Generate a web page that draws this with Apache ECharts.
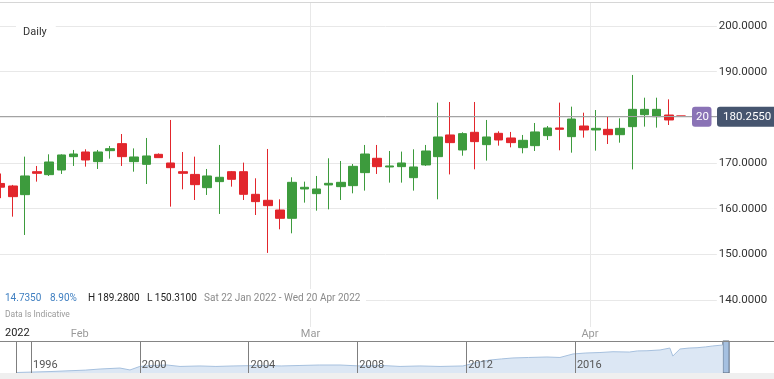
<!DOCTYPE html>
<html><head><meta charset="utf-8">
<script src="https://cdn.jsdelivr.net/npm/echarts@6/dist/echarts.min.js"></script>
<style>html,body{margin:0;padding:0;background:#fff}#c{width:774px;height:379px}</style>
</head><body><div id="c"></div>
<script>
// ---- data ----
const dates = ['2022-01-21','2022-01-24','2022-01-25','2022-01-26','2022-01-27','2022-01-28','2022-01-31',
 '2022-02-01','2022-02-02','2022-02-03','2022-02-04','2022-02-07','2022-02-08','2022-02-09','2022-02-10','2022-02-11',
 '2022-02-14','2022-02-15','2022-02-16','2022-02-17','2022-02-18','2022-02-22','2022-02-23','2022-02-24','2022-02-25','2022-02-28',
 '2022-03-01','2022-03-02','2022-03-03','2022-03-04','2022-03-07','2022-03-08','2022-03-09','2022-03-10','2022-03-11',
 '2022-03-14','2022-03-15','2022-03-16','2022-03-17','2022-03-18','2022-03-21','2022-03-22','2022-03-23','2022-03-24','2022-03-25',
 '2022-03-28','2022-03-29','2022-03-30','2022-03-31','2022-04-01','2022-04-04','2022-04-05','2022-04-06','2022-04-07','2022-04-08',
 '2022-04-11','2022-04-12','2022-04-13','2022-04-14','2022-04-18','2022-04-19','2022-04-20','2022-04-21','2022-04-22'];
const opens = [165.52,164.97,163.07,168.1,167.45,168.47,171.39,172.41,170.3,172.7,174.24,170.3,169.71,171.9,170.0,168.1,167.5,164.6,165.92,168.1,
 168.1,163.14,161.83,159.71,157.89,164.31,163.29,165.19,164.82,165.04,167.89,171.03,169.13,169.2,166.79,169.57,171.39,176.14,172.85,176.72,
 174.02,176.5,175.48,173.36,173.8,175.99,177.67,175.77,178.1,177.23,177.37,176.2,177.96,180.58,180.15,180.51,180.3];
const closes = [164.7,162.63,167.16,167.74,170.22,171.76,171.97,170.66,172.41,173.14,171.39,171.32,171.54,171.17,168.98,167.74,165.26,167.16,166.87,166.43,
 163.14,161.54,160.66,157.89,165.77,164.68,164.31,165.55,165.77,169.27,171.97,169.2,169.35,170.0,169.13,172.63,175.7,174.46,176.43,174.68,
 175.7,175.04,174.46,174.97,176.8,177.67,177.38,179.63,177.23,177.59,176.2,177.59,181.75,181.75,181.75,179.42,180.255];
const lows = [162.3,158.25,154.24,165.92,167.16,167.6,169.35,169.2,168.69,170.95,169.35,168.1,165.4,171.17,160.44,164.24,161.9,163.0,158.84,164.82,
 161.9,158.61,150.31,155.48,154.6,161.32,159.56,159.85,161.9,163.36,163.95,167.6,165.7,165.7,163.95,169.35,162.05,167.5,171.6,168.62,
 170.52,173.8,173.43,172.12,172.63,175.04,172.78,172.26,175.55,172.7,174.16,174.45,168.6,177.96,177.74,178.32,180.255];
const highs = [167.7,165.2,171.39,169.35,171.9,171.9,172.85,173.0,172.85,173.73,176.35,173.2,175.48,172.1,179.42,172.41,171.39,168.69,173.95,168.25,
 170.08,166.65,173.07,162.05,166.87,165.92,167.16,171.03,170.44,169.78,173.95,173.95,172.63,172.5,173.0,173.95,183.22,183.36,176.72,183.36,
 179.42,176.94,176.8,176.14,178.76,178.1,183.22,182.34,181.02,181.6,180.15,179.78,189.28,184.3,184.3,183.94,180.3];
const monthNames = ['Jan','Feb','Mar','Apr','May','Jun','Jul','Aug','Sep','Oct','Nov','Dec'];
const yearLabel = '2022';
const rangeLabel = 'Sat 22 Jan 2022 - Wed 20 Apr 2022';
const intervalLabel = 'Daily';
const countdownLabel = '20';
// navigator (long history overview)
const navX = [1995.45,1996.7,1998.0,1998.54,1999.27,1999.64,2000.0,2000.5,2001.0,2001.48,2002.21,2002.8,2003.43,2004.42,2005.2,2005.89,2006.6,2007.36,2008.1,
 2008.9,2009.57,2010.3,2011.04,2011.88,2012.4,2012.88,2013.3,2013.72,2014.3,2014.97,2015.45,2015.93,2016.4,2016.92,2017.4,2018.0,2018.3,2018.65,2019.13,
 2019.49,2019.6,2019.86,2020.2,2020.49,2020.8,2021.07,2021.44];
const navY = [3,9,18,25,31,19,41,47,50,41,44,41,44,47,44,47,50,50,44,
 47,41,44,41,44,66,81,88,94,97,100,97,119,125,128,133,131,138,139,144,
 156,106,150,156,158,163,169,175];
const navYearLines = [1995.45,1996,2000,2004,2008,2012,2016];
const navLabelYears = [1996,2000,2004,2008,2012,2016];
const navWindow = [2021.44,2021.67];

// ---- derived ----
const GREEN = '#3d9b3d', RED = '#e2262c';
const FONT = 'Roboto';
const isMonthStart = dates.map((d,i)=> i>0 && d.slice(5,7)!==dates[i-1].slice(5,7));
const candles = opens.map((o,i)=>[o, closes[i], lows[i], highs[i]]);
const firstOpen = opens[0], lastClose = closes[closes.length-1];
const change = lastClose - firstOpen;
const pct = change/firstOpen*100;
const hi = Math.max(...highs), lo = Math.min(...lows);

const chart = echarts.init(document.getElementById('c'), null, {renderer:'canvas'});
chart.setOption({
  animation:false,
  backgroundColor:'#fff',
  grid:[
    {left:-5.47, right:1.9, top:2, bottom:52, containLabel:false, outerBoundsMode:'none'},
    {left:0, right:0, top:341, height:32, containLabel:false, outerBoundsMode:'none'}
  ],
  xAxis:[
    {gridIndex:0, type:'category', data:dates, boundaryGap:true,
     axisLine:{show:false}, axisTick:{show:false},
     axisLabel:{interval:(i)=>isMonthStart[i], formatter:(v)=>monthNames[+v.slice(5,7)-1],
       color:'#9a9a9a', fontSize:11, fontFamily:FONT, margin:2, padding:[0,12,0,0], hideOverlap:false},
     splitLine:{show:true, interval:(i)=>isMonthStart[i], showMinLine:false, showMaxLine:false, lineStyle:{color:'#e8e8e8', width:1}}},
    {gridIndex:1, type:'value', min:1994.86, max:2023.32, minInterval:4, maxInterval:4, z:10,
     axisLine:{show:false}, axisTick:{show:false}, splitLine:{show:false},
     axisLabel:{inside:true, showMinLabel:false, showMaxLabel:false, align:'left', margin:2, padding:[0,0,0,2],
       color:'#555', fontSize:11, fontFamily:FONT, hideOverlap:false,
       formatter:(v)=> navLabelYears.indexOf(Math.round(v))>=0 && Math.abs(v-Math.round(v))<1e-6 ? String(Math.round(v)) : ''}}
  ],
  yAxis:[
    {gridIndex:0, type:'value', position:'right', min:134.087, max:205.2555, minInterval:10, maxInterval:10,
     axisLine:{show:false}, axisTick:{show:false},
     splitLine:{show:true, showMinLine:false, showMaxLine:false, lineStyle:{color:'#e8e8e8', width:1}},
     axisLabel:{inside:true, margin:0, showMinLabel:false, showMaxLabel:false, formatter:(v)=>v.toFixed(4),
       color:'#333', fontSize:11.5, fontFamily:FONT, backgroundColor:'#fff', padding:[2,5,2,2]}},
    {gridIndex:1, type:'value', min:0, max:200, show:false, splitLine:{show:false}}
  ],
  series:[
    {type:'candlestick', xAxisIndex:0, yAxisIndex:0, data:candles, barWidth:9,
     itemStyle:{color:GREEN, color0:RED, borderColor:GREEN, borderColor0:RED, borderWidth:1},
     markLine:{silent:true, symbol:'none', label:{show:false}, animation:false,
       lineStyle:{color:'#a3a3a3', width:1, type:'solid'}, data:[{yAxis:lastClose}]}},
    {type:'line', xAxisIndex:1, yAxisIndex:1, data:navX.map((x,i)=>[x, navY[i]]), symbol:'none', silent:true, z:1,
     lineStyle:{color:'#a6c0de', width:1}, areaStyle:{color:'#dce7f4', opacity:1},
     markLine:{silent:true, symbol:'none', label:{show:false}, animation:false,
       lineStyle:{color:'#7f7f7f', width:1, type:'solid'}, data:navYearLines.map(v=>({xAxis:v}))},
     markArea:{silent:true, itemStyle:{color:'#a5c0e0', borderColor:'#5b6a7c', borderWidth:1},
       data:[[{xAxis:navWindow[0]},{xAxis:navWindow[1]}]]}}
  ]
});

const py = chart.convertToPixel({gridIndex:0}, [0, lastClose])[1];
chart.setOption({graphic:[
  {type:'line', silent:true, shape:{x1:0,y1:2.5,x2:774,y2:2.5}, style:{stroke:'#d6d6d6', lineWidth:1}, z:10},
  {type:'line', silent:true, shape:{x1:0,y1:341.5,x2:774,y2:341.5}, style:{stroke:'#858585', lineWidth:1}, z:10},
  {type:'rect', silent:true, shape:{x:0,y:373,width:774,height:6}, style:{fill:'#efefef'}, z:10},
  {type:'text', x:16, y:32, z:20, style:{text:intervalLabel, fill:'#333', fontSize:11, fontFamily:FONT,
     verticalAlign:'middle', backgroundColor:'#fff', padding:[6,9,6,7]}},
  {type:'rect', silent:true, shape:{x:0,y:289,width:366,height:19}, style:{fill:'#fff'}, z:15},
  {type:'text', x:5, y:298, z:20, style:{text:change.toFixed(4), fill:'#3f7fc1', fontSize:10, fontFamily:FONT, verticalAlign:'middle'}},
  {type:'text', x:50, y:298, z:20, style:{text:pct.toFixed(2)+'%', fill:'#3f7fc1', fontSize:10, fontFamily:FONT, verticalAlign:'middle'}},
  {type:'text', x:88, y:298, z:20, style:{text:'H '+hi.toFixed(4), fill:'#222', fontSize:10, fontFamily:FONT, verticalAlign:'middle'}},
  {type:'text', x:147, y:298, z:20, style:{text:'L '+lo.toFixed(4), fill:'#222', fontSize:10, fontFamily:FONT, verticalAlign:'middle'}},
  {type:'text', x:204, y:298, z:20, style:{text:rangeLabel, fill:'#8a8a8a', fontSize:10, fontFamily:FONT, verticalAlign:'middle'}},
  {type:'text', x:5, y:315, z:20, style:{text:'Data Is Indicative', fill:'#9a9a9a', fontSize:8.5, fontFamily:FONT, verticalAlign:'middle'}},
  {type:'text', x:5, y:333, z:20, style:{text:yearLabel, fill:'#222', fontSize:11, fontFamily:FONT, verticalAlign:'middle'}},
  {type:'text', x:692, y:py+0.5, z:20, style:{text:countdownLabel, fill:'#fff', fontSize:11.5, fontFamily:FONT, verticalAlign:'middle',
     backgroundColor:'#8a73b6', padding:[4,4,4,4], borderRadius:3, width:11.5, align:'left'}},
  {type:'text', x:717, y:py+0.5, z:20, style:{text:lastClose.toFixed(4), fill:'#fff', fontSize:11.5, fontFamily:FONT, verticalAlign:'middle',
     backgroundColor:'#46556f', padding:[4,6,4,6], borderRadius:3, align:'left'}}
]});
</script></body></html>
